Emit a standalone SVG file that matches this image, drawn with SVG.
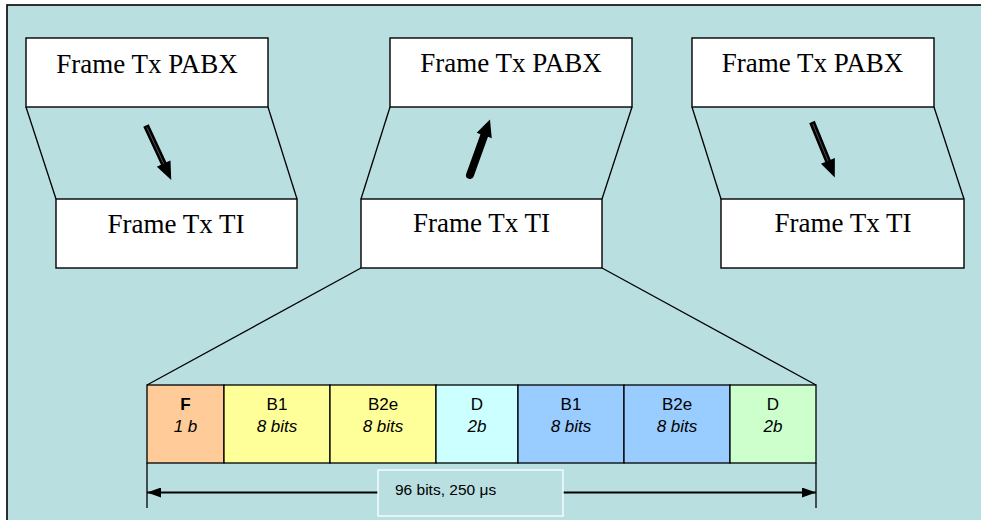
<svg xmlns="http://www.w3.org/2000/svg" xmlns:xlink="http://www.w3.org/1999/xlink" width="981" height="520" viewBox="0 0 981 520">
  <style>
    .frame { fill: #ffffff; stroke: #000000; stroke-width: 1.4; }
    .big { font-family: "Liberation Serif", "Times New Roman", serif; font-size: 27px; fill: #000000; text-anchor: middle; }
    .cell { stroke: #000000; stroke-width: 1.3; }
    .lbl { font-family: "Liberation Sans", Arial, sans-serif; font-size: 17px; fill: #000000; text-anchor: middle; }
    .it { font-style: italic; }
    .link { stroke: #000000; stroke-width: 1.3; fill: none; }
  </style>
  <defs>
    <!-- slim block arrow, length 60, pointing along +x -->
    <g id="slimArrow">
      <path d="M0,-3 L42,-3 L42,-7.5 L60,0 L42,7.5 L42,3 L0,3 Z" fill="#000000"/>
      <line x1="2" y1="0" x2="42" y2="0" stroke="#6a6a6a" stroke-width="0.7"/>
    </g>
    <!-- heavy block arrow with rounded tail -->
    <path id="heavyArrow" d="M0,-4 L42,-4 L42,-8 L59,0 L42,8 L42,4 L0,4 A4,4 0 0 1 0,-4 Z" fill="#000000"/>
    <marker id="dimHead" viewBox="0 0 14 10" refX="14" refY="5" markerWidth="14" markerHeight="10" markerUnits="userSpaceOnUse" orient="auto-start-reverse">
      <path d="M0,0 L14,5 L0,10 Z" fill="#000000"/>
    </marker>
  </defs>

  <!-- panel background -->
  <rect x="7" y="5" width="990" height="530" fill="#b9dfe1" stroke="#000000" stroke-width="1.6"/>

  <!-- connectors -->
  <g id="connectors">
    <line class="link" x1="26" y1="107" x2="56" y2="199"/>
    <line class="link" x1="268" y1="107" x2="297" y2="199"/>
    <line class="link" x1="390" y1="107" x2="361" y2="199"/>
    <line class="link" x1="632" y1="107" x2="602" y2="199"/>
    <line class="link" x1="692" y1="107" x2="721" y2="199"/>
    <line class="link" x1="934" y1="107" x2="964" y2="199"/>
    <line class="link" x1="361" y1="268" x2="147" y2="385"/>
    <line class="link" x1="602" y1="268" x2="816" y2="385"/>
    <use xlink:href="#slimArrow" transform="translate(146,125.5) rotate(65.1)"/>
    <use xlink:href="#heavyArrow" transform="translate(470,175) rotate(-70.2)"/>
    <use xlink:href="#slimArrow" transform="translate(812,122) rotate(67.7)"/>
  </g>

  <!-- left pair -->
  <g id="pabx-left">
    <rect class="frame" x="26" y="38" width="242" height="69"/>
    <text class="big" x="147" y="73">Frame Tx PABX</text>
  </g>
  <g id="ti-left">
    <rect class="frame" x="56" y="199" width="241" height="69"/>
    <text class="big" x="176" y="233">Frame Tx TI</text>
  </g>

  <!-- middle pair -->
  <g id="pabx-mid">
    <rect class="frame" x="390" y="38" width="242" height="69"/>
    <text class="big" x="511" y="72">Frame Tx PABX</text>
  </g>
  <g id="ti-mid">
    <rect class="frame" x="361" y="199" width="241" height="69"/>
    <text class="big" x="481.5" y="232">Frame Tx TI</text>
  </g>

  <!-- right pair -->
  <g id="pabx-right">
    <rect class="frame" x="692" y="38" width="242" height="69"/>
    <text class="big" x="812.5" y="72">Frame Tx PABX</text>
  </g>
  <g id="ti-right">
    <rect class="frame" x="721" y="199" width="243" height="69"/>
    <text class="big" x="843" y="232">Frame Tx TI</text>
  </g>

  <!-- frame fields -->
  <g id="field-F">
    <rect class="cell" x="147" y="385" width="77" height="78" fill="#ffcc99"/>
    <text class="lbl" x="185.5" y="410" font-weight="bold">F</text>
    <text class="lbl it" x="185.5" y="432">1 b</text>
  </g>
  <g id="field-B1a">
    <rect class="cell" x="224" y="385" width="106" height="78" fill="#ffff99"/>
    <text class="lbl" x="277" y="410">B1</text>
    <text class="lbl it" x="277" y="432">8 bits</text>
  </g>
  <g id="field-B2ea">
    <rect class="cell" x="330" y="385" width="106" height="78" fill="#ffff99"/>
    <text class="lbl" x="383" y="410">B2e</text>
    <text class="lbl it" x="383" y="432">8 bits</text>
  </g>
  <g id="field-Da">
    <rect class="cell" x="436" y="385" width="82" height="78" fill="#ccffff"/>
    <text class="lbl" x="477" y="410">D</text>
    <text class="lbl it" x="477" y="432">2b</text>
  </g>
  <g id="field-B1b">
    <rect class="cell" x="518" y="385" width="106" height="78" fill="#99ccff"/>
    <text class="lbl" x="571" y="410">B1</text>
    <text class="lbl it" x="571" y="432">8 bits</text>
  </g>
  <g id="field-B2eb">
    <rect class="cell" x="624" y="385" width="106" height="78" fill="#99ccff"/>
    <text class="lbl" x="677" y="410">B2e</text>
    <text class="lbl it" x="677" y="432">8 bits</text>
  </g>
  <g id="field-Db">
    <rect class="cell" x="730" y="385" width="86" height="78" fill="#ccffcc"/>
    <text class="lbl" x="773" y="410">D</text>
    <text class="lbl it" x="773" y="432">2b</text>
  </g>

  <!-- overall length dimension -->
  <g id="dimension">
    <line class="link" x1="147" y1="463" x2="147" y2="508"/>
    <line class="link" x1="816" y1="463" x2="816" y2="508"/>
    <line x1="147" y1="492.5" x2="816" y2="492.5" stroke="#000000" stroke-width="2.2" marker-start="url(#dimHead)" marker-end="url(#dimHead)"/>
    <rect x="378" y="470" width="185" height="46" fill="#b9dfe1" stroke="#ffffff" stroke-width="1.3"/>
    <text x="395" y="495" font-family="'Liberation Sans', Arial, sans-serif" font-size="15.5px" fill="#000000">96 bits, 250 μs</text>
  </g>
</svg>
